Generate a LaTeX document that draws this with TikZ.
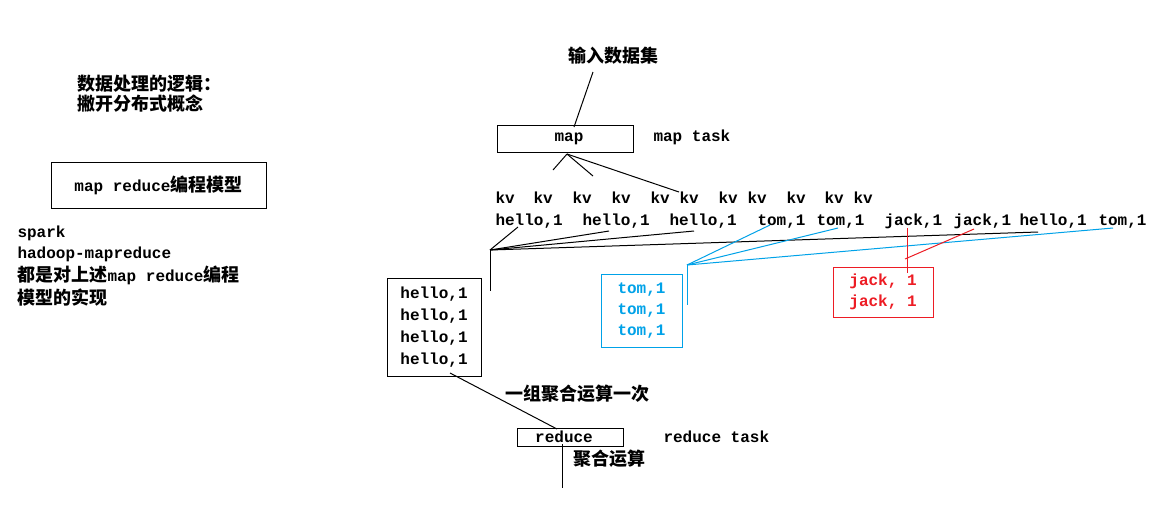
\documentclass[tikz,border=0pt]{standalone}
\usepackage{fontspec}
\newfontfamily\monof{Liberation Mono}
\newfontfamily\cjkf{Noto Sans CJK SC}
\newcommand{\mt}[1]{{\monof\bfseries\fontsize{12}{14}\selectfont #1}}
\newcommand{\ct}[1]{{\cjkf\bfseries\fontsize{13.5}{16}\selectfont #1}}
\definecolor{skyblue}{RGB}{0,162,232}
\definecolor{paintred}{RGB}{237,28,36}

\begin{document}
\begin{tikzpicture}[x=0.75pt,y=-0.75pt,line width=0.75pt,
    txt/.style={inner sep=0pt,anchor=base west},
    hz/.style={inner sep=0pt,anchor=west},
    box/.style={draw,inner sep=0pt,align=center}]

    \fill[white] (0,0) rectangle (1166,512);
    \useasboundingbox (0,0) rectangle (1166,512);

    % left side
    \node[hz] (logic) at (77,83.5) {\ct{数据处理的逻辑：}};
    \node[hz] (nodist) at (77,103.5) {\ct{撇开分布式概念}};
    \node[box,minimum width=161.25pt,minimum height=34.5pt] (model) at (158.5,185) {\mt{map reduce}\ct{编程模型}};
    \node[txt] (spark) at (17,237) {\mt{spark}};
    \node[txt] (hadoop) at (17,258) {\mt{hadoop-mapreduce}};
    \node[hz] (impl1) at (17,275.5) {\ct{都是对上述}\mt{map reduce}\ct{编程}};
    \node[hz] (impl2) at (17,297.5) {\ct{模型的实现}};

    % map stage
    \node[hz] (input) at (568,55.5) {\ct{输入数据集}};
    \node[box,minimum width=102pt,minimum height=20.25pt] (map) at (565,138.5) {\hspace*{6pt}\mt{map}};
    \node[txt] (maptask) at (653,141) {\mt{map task}};

    \foreach \x [count=\i] in {495,533,572,611,650,679,718,747,786,824,853}
        \node[txt] (kv\i) at (\x,203) {\mt{kv}};

    \foreach \x/\t [count=\i] in {495/{hello,1},582/{hello,1},669/{hello,1},757/{tom,1},816/{tom,1},884/{jack,1},953/{jack,1},1019/{hello,1},1098/{tom,1}}
        \node[txt] (pair\i) at (\x,225) {\mt{\t}};

    \coordinate (inA) at (593,72);
    \coordinate (inB) at (574,127);
    \coordinate (mapfoot) at (567,154);
    \coordinate (m1) at (553,170);
    \coordinate (m2) at (593,176);
    \coordinate (m3) at (679,192);

    \draw[-] (inA) -- (inB);
    \draw[-] (mapfoot) -- (m1);
    \draw[-] (mapfoot) -- (m2);
    \draw[-] (mapfoot) -- (m3);

    % grouping
    \coordinate (hj) at (490,250);
    \coordinate (h1) at (518,227);
    \coordinate (h2) at (609,231);
    \coordinate (h3) at (694,231);
    \coordinate (h4) at (1038,232);
    \coordinate (hd) at (490,291);
    \draw[-] (h1) -- (hj);
    \draw[-] (h2) -- (hj);
    \draw[-] (h3) -- (hj);
    \draw[-] (h4) -- (hj);
    \draw[-] (hj) -- (hd);

    \coordinate (tj) at (687,265);
    \coordinate (t1) at (770,225);
    \coordinate (t2) at (838,228);
    \coordinate (t3) at (1113,228);
    \coordinate (td) at (687,305);
    \draw[-,skyblue] (t1) -- (tj);
    \draw[-,skyblue] (t2) -- (tj);
    \draw[-,skyblue] (t3) -- (tj);
    \draw[-,skyblue] (tj) -- (td);

    \coordinate (j1) at (907,228);
    \coordinate (jd) at (907,273);
    \coordinate (j2) at (974,229);
    \coordinate (jj) at (905,259);
    \draw[-,paintred] (j1) -- (jd);
    \draw[-,paintred] (j2) -- (jj);

    \node[box,minimum width=70.5pt,minimum height=73.5pt,
        font=\monof\bfseries\fontsize{12}{16.5}\selectfont] (hellobox) at (434,327) {hello,1\\hello,1\\hello,1\\hello,1};
    \node[box,draw=skyblue,text=skyblue,minimum width=60.75pt,minimum height=54.75pt,
        font=\monof\bfseries\fontsize{12}{15.75}\selectfont] (tombox) at (641.5,310.5) {tom,1\\tom,1\\tom,1};
    \node[box,draw=paintred,text=paintred,minimum width=75pt,minimum height=37.5pt,
        font=\monof\bfseries\fontsize{12}{15.75}\selectfont] (jackbox) at (883,292) {jack, 1\\jack, 1};

    % reduce stage
    \node[hz] (group) at (505,393.5) {\ct{一组聚合运算一次}};
    \node[box,minimum width=79.5pt,minimum height=13.5pt] (reduce) at (570,437) {\mt{reduce}\hspace*{9pt}};
    \node[txt] (redtask) at (663,442) {\mt{reduce task}};
    \node[hz] (aggr) at (573,458.5) {\ct{聚合运算}};

    \coordinate (r1) at (450,373);
    \coordinate (r2) at (557,429);
    \coordinate (rfoot) at (562,444);
    \coordinate (rout) at (562,488);
    \draw[-] (r1) -- (r2);
    \draw[-] (rfoot) -- (rout);

\end{tikzpicture}
\end{document}
